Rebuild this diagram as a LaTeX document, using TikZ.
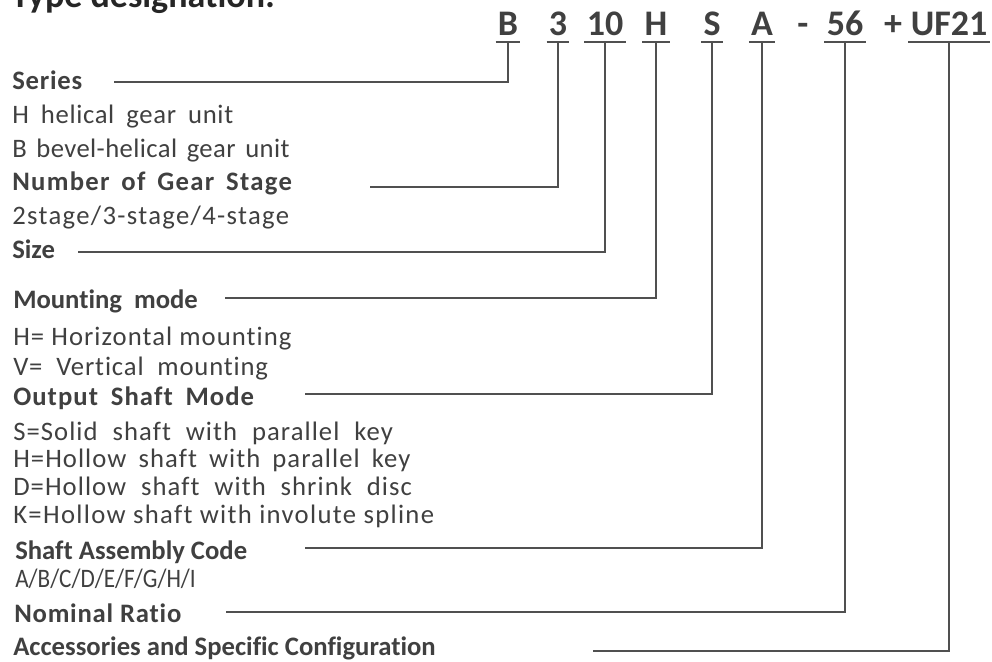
\documentclass[tikz,border=0pt]{standalone}
\usepackage{fontspec}
\setmainfont{Carlito}[Ligatures=NoCommon]
\usetikzlibrary{calc}
\definecolor{txt}{RGB}{64,64,64}
\definecolor{ttl}{RGB}{38,38,38}
\definecolor{lncol}{RGB}{80,80,80}
\newcommand\spc[3]{{\addfontfeatures{LetterSpace=#1}\spaceskip=#2\fontdimen2\font\relax #3}}
\tikzset{
  lbl/.style={anchor=base west, inner sep=0pt, text=txt, font=\fontsize{20}{24}\selectfont},
  hd/.style={lbl, font=\fontsize{20}{24}\selectfont\bfseries},
  codeitem/.style={anchor=base, inner sep=0pt, text=txt, font=\fontsize{27}{32}\selectfont\bfseries},
  conn/.style={draw=lncol, line width=1pt},
}
\begin{document}
\begin{tikzpicture}[x=0.75pt,y=-0.75pt]
\useasboundingbox (0,0) rectangle (992,661);
% title
\node[anchor=base west, inner sep=0pt, text=ttl, font=\fontsize{27}{32}\selectfont\bfseries] (title) at (11,7) {Type designation:};
% code
\node[codeitem] (cB) at (508,35) {B};
\node[codeitem] (c3) at (558,35) {3};
\node[codeitem] (c10) at (605,35) {10};
\node[codeitem] (cH) at (656,35) {H};
\node[codeitem] (cS) at (712,35) {S};
\node[codeitem] (cA) at (762,35) {A};
\node[codeitem] (cDash) at (803,35) {-};
\node[codeitem] (c56) at (845,35) {56};
\node[codeitem] (cPlus) at (893,35) {+};
\node[codeitem] (cUF) at (949,35) {UF21};
\foreach \n in {cB,c3,c10,cH,cS,cA,c56,cUF}{
  \draw[conn] ($(\n.base west)+(-2,7)$) -- ($(\n.base east)+(2,7)$);
  \coordinate (u\n) at ($(\n.base)+(0,7)$);
}
% labels
\node[hd] (nSeries) at (12,89) {\spc{3}{1.5}{Series}};
\node[lbl] (nH) at (12,123) {\spc{2.5}{1.8}{H helical gear unit}};
\node[lbl] (nB) at (12,157) {\spc{1.5}{1.5}{B bevel-helical gear unit}};
\node[hd] (nStage) at (12,190) {\spc{5}{1.6}{Number of Gear Stage}};
\node[lbl] (nStages) at (12,224) {\spc{5}{1}{2stage/3-stage/4-stage}};
\node[hd] (nSize) at (12,258) {Size};
\node[hd] (nMount) at (13,308) {\spc{0}{2}{Mounting mode}};
\node[lbl] (nMH) at (13,345) {\spc{4}{1}{H= Horizontal mounting}};
\node[lbl] (nMV) at (13,375) {\spc{3.2}{2}{V= Vertical mounting}};
\node[hd] (nOut) at (13,405) {\spc{4}{1.8}{Output Shaft Mode}};
\node[lbl] (nO1) at (13,440) {\spc{4}{2.1}{S=Solid shaft with parallel key}};
\node[lbl] (nO2) at (13,467) {\spc{4}{1.7}{H=Hollow shaft with parallel key}};
\node[lbl] (nO3) at (13,495) {\spc{4}{2.1}{D=Hollow shaft with shrink disc}};
\node[lbl] (nO4) at (13,523) {\spc{5}{1}{K=Hollow shaft with involute spline}};
\node[hd] (nAsm) at (15,559) {Shaft Assembly Code};
\node[lbl] (nAsmV) at (15,587) {\scalebox{0.87}[1]{A/B/C/D/E/F/G/H/I}};
\node[hd] (nRatio) at (14,622) {\spc{3}{1}{Nominal Ratio}};
\node[hd] (nAcc) at (13,655) {Accessories and Specific Configuration};
% connector start points
\coordinate (sSeries) at (114,82);
\coordinate (sStage) at (370,187);
\coordinate (sSize) at (78,252);
\coordinate (sMount) at (225,298);
\coordinate (sOut) at (305,394);
\coordinate (sAsm) at (305,548);
\coordinate (sRatio) at (226,612);
\coordinate (sAcc) at (593,651);
\draw[conn] (sSeries) -| (ucB);
\draw[conn] (sStage) -| (uc3);
\draw[conn] (sSize) -| (uc10);
\draw[conn] (sMount) -| (ucH);
\draw[conn] (sOut) -| (ucS);
\draw[conn] (sAsm) -| (ucA);
\draw[conn] (sRatio) -| (uc56);
\draw[conn] (sAcc) -| (ucUF);
\end{tikzpicture}
\end{document}
